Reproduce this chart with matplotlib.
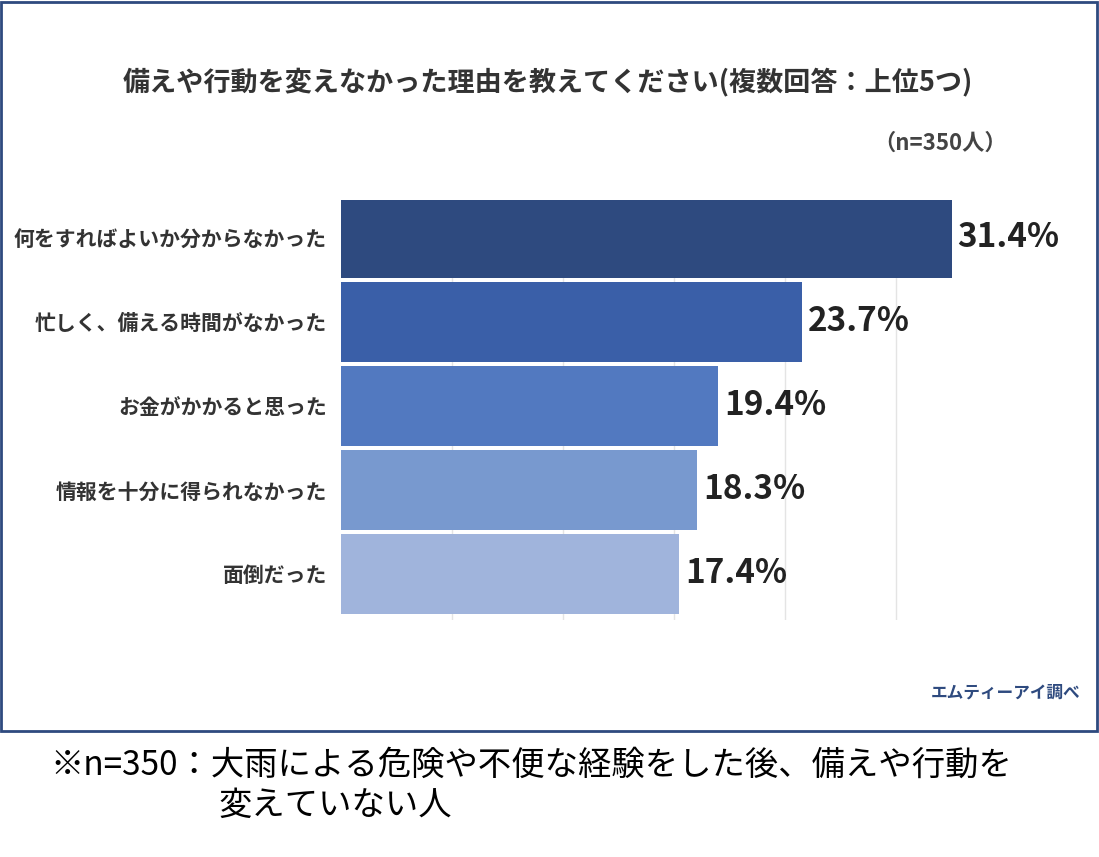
import matplotlib
matplotlib.use('agg')
import matplotlib.pyplot as plt
from matplotlib.patches import Rectangle

plt.rcParams['font.family'] = ['Noto Sans CJK JP', 'DejaVu Sans']

reasons = ['何をすればよいか分からなかった', '忙しく、備える時間がなかった', 'お金がかかると思った',
           '情報を十分に得られなかった', '面倒だった']
values = [31.4, 23.7, 19.4, 18.3, 17.4]
colors = ['#2e4a7f', '#3a5fa8', '#5279c0', '#7899cf', '#a0b4dc']

W, H = 1099, 857
fig = plt.figure(figsize=(W / 100, H / 100), dpi=100)

# frame around the chart part
fig.patches.append(Rectangle((1 / W, 1 - 731 / H), 1096 / W, 729 / H, transform=fig.transFigure,
                             fill=False, edgecolor='#2e4a7f', linewidth=2))

ax = fig.add_axes([341 / W, 1 - 620 / H, 778 / W, 420 / H])
y = list(range(len(values)))
ax.barh(y, values, height=0.95, color=colors)
ax.set_xlim(0, 40)
ax.set_ylim(4.55, -0.45)
for gx in [5.71, 11.42, 17.13, 22.84, 28.55]:
    ax.axvline(gx, color='#e4e4e4', linewidth=1, zorder=0)
for s in ax.spines.values():
    s.set_visible(False)
ax.set_xticks([])
ax.set_yticks(y)
ax.set_yticklabels(reasons, fontsize=15, fontweight='bold', color='#333333')
ax.tick_params(axis='y', length=0, pad=10)
for yi, v in zip(y, values):
    ax.text(v + 0.3, yi, f'{v}%', va='center', ha='left', fontsize=24,
            fontweight='bold', color='#222222')

fig.text(548 / W, 1 - 82 / H, '備えや行動を変えなかった理由を教えてください(複数回答：上位5つ)',
         ha='center', va='center', fontsize=19.5, fontweight='bold', color='#333333')
fig.text(940 / W, 1 - 143 / H, '（n=350人）', ha='center', va='center', fontsize=16,
         fontweight='bold', color='#444444')
fig.text(1080 / W, 1 - 693 / H, 'エムティーアイ調べ', ha='right', va='center', fontsize=12,
         fontweight='bold', color='#2e4a7f')
fig.text(50 / W, 1 - 765 / H, '※n=350：大雨による危険や不便な経験をした後、備えや行動を',
         ha='left', va='center', fontsize=24, color='black')
fig.text(218 / W, 1 - 805 / H, '変えていない人', ha='left', va='center', fontsize=24, color='black')

fig.savefig('out.png', dpi=100)
